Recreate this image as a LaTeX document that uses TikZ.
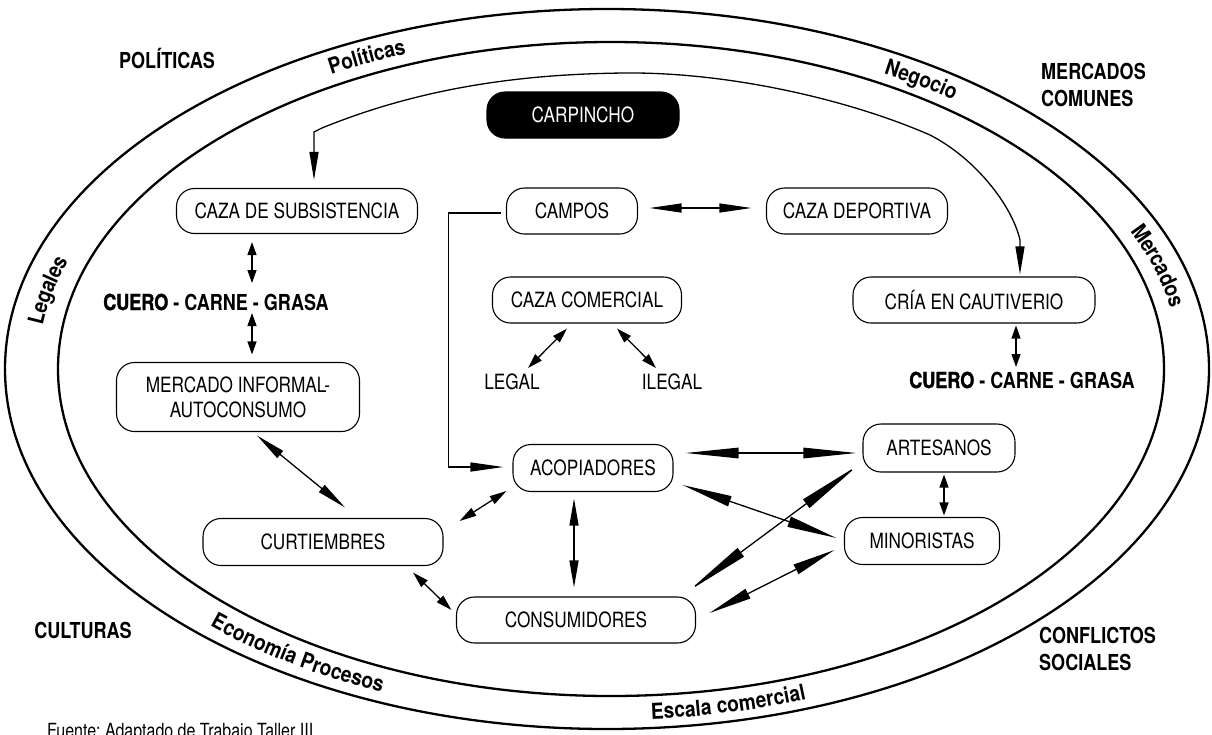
\documentclass[tikz,border=0pt]{standalone}
\usepackage{fontspec}
\setmainfont{TeX Gyre Heros}[FakeStretch=0.82]
\newfontfamily\bandfont{TeX Gyre Heros}[FakeStretch=0.87]
\newfontfamily\heavyfont{TeX Gyre Heros}[FakeStretch=0.82, FakeBold=1.5]
\usetikzlibrary{arrows.meta,calc,decorations.text}
\frenchspacing

\tikzset{
  box/.style={draw, line width=1.1pt, rounded corners=18pt, minimum height=46pt,
    inner sep=0pt, font=\fontsize{21}{25}\selectfont, align=center},
  lbl/.style={font=\fontsize{22}{27}\selectfont\bfseries, align=left, inner sep=0pt},
  plain/.style={font=\fontsize{21}{25}\selectfont, inner sep=0pt},
  arr/.style={line width=1.3pt, {Triangle[length=#1,width=9pt]}-{Triangle[length=#1,width=9pt]}},
  longarr/.style={line width=1.3pt, {Triangle[length=#1,width=10.5pt]}-{Triangle[length=#1,width=10.5pt]}},
  onearr/.style={line width=1.3pt, -{Triangle[length=#1,width=9pt]}},
  ring/.style={line width=2.3pt},
  band/.style={decorate, decoration={text along path, text align=center, raise=-7pt,
    text={|\bandfont\bfseries\fontsize{22}{26}\selectfont|#1}}},
}

\begin{document}
\begin{tikzpicture}[x=1pt,y=-1pt]
\useasboundingbox (0,0) rectangle (1212,734);

% the two rings
\draw[ring] (607,369) ellipse [x radius=602, y radius=360];
\draw[ring] (611,369) ellipse [x radius=553, y radius=327];

% words written inside the band between the rings
\path[band=Políticas] ($(609,369)+({578*cos(213)},{344*sin(213)})$)
  arc[start angle=213, end angle=273, x radius=578, y radius=344];
\path[band=Negocio] ($(609,369)+({578*cos(284)},{344*sin(284)})$)
  arc[start angle=284, end angle=324, x radius=578, y radius=344];
\path[band=Mercados] ($(609,369)+({578*cos(322)},{344*sin(322)})$)
  arc[start angle=322, end angle=366, x radius=578, y radius=344];
\path[band=Legales] ($(609,369)+({578*cos(170)},{344*sin(170)})$)
  arc[start angle=170, end angle=214, x radius=578, y radius=344];
\path[band=Economía Procesos] ($(609,369)+({578*cos(158)},{344*sin(158)})$)
  arc[start angle=158, end angle=94, x radius=578, y radius=344];
\path[band=Escala comercial] ($(609,369)+({578*cos(107)},{344*sin(107)})$)
  arc[start angle=107, end angle=47, x radius=578, y radius=344];

% outer labels
\node[lbl] (pol) at (167,58) {POLÍTICAS};
\node[lbl, anchor=west] (mer) at (1041,85) {MERCADOS\\COMUNES};
\node[lbl] (cul) at (83,630) {CULTURAS};
\node[lbl, anchor=west] (con) at (1039,649) {CONFLICTOS\\SOCIALES};
\node[plain, anchor=base west, font=\fontsize{19.5}{23}\selectfont] (src) at (47,737)
  {Fuente: Adaptado de Trabajo Taller III.};

% nodes
\node[box, fill=black, text=white, minimum width=192pt] (carp) at (583,115) {CARPINCHO};
\node[box, minimum width=241pt, minimum height=45pt] (caza) at (297,211) {CAZA DE SUBSISTENCIA};
\node[box, minimum width=131pt] (campos) at (572,211) {CAMPOS};
\node[box, minimum width=181pt] (deport) at (857,211) {CAZA DEPORTIVA};
\node[box, minimum width=189pt] (comer) at (587,300) {CAZA COMERCIAL};
\node[box, minimum width=242pt] (cria) at (974,300) {CRÍA EN CAUTIVERIO};
\node[plain] (legal) at (512,382) {LEGAL};
\node[plain] (ilegal) at (672,382) {ILEGAL};
\node[plain, font=\fontsize{22}{27}\selectfont] (cueroA) at (216,302)
  {{\heavyfont\bfseries CUERO}\bfseries\ - CARNE - GRASA};
\node[plain, font=\fontsize{22}{27}\selectfont] (cueroB) at (1022,380)
  {{\heavyfont\bfseries CUERO}\bfseries\ - CARNE - GRASA};
\node[box, minimum width=243pt, minimum height=69pt] (merc) at (238,397)
  {MERCADO INFORMAL-\\AUTOCONSUMO};
\node[box, minimum width=160pt, minimum height=47pt] (acop) at (593,468) {ACOPIADORES};
\node[box, minimum width=152pt, minimum height=48pt] (art) at (939,448) {ARTESANOS};
\node[box, minimum width=155pt, minimum height=47pt] (mino) at (922,541) {MINORISTAS};
\node[box, minimum width=240pt, minimum height=47pt] (curt) at (323,542) {CURTIEMBRES};
\node[box, minimum width=239pt] (cons) at (576,620) {CONSUMIDORES};

% connectors
\draw[arr=28pt] ($(caza.north)+(17,-8)$) -- (314,132) -- (322,128)
  .. controls (420,88) and (520,74) .. (625,73)
  .. controls (730,72) and (850,100) .. (930,135)
  .. controls (975,158) and (1012,205) .. (1020,240)
  -- ($(cria.north)+(46,-2)$);

\draw[arr=13pt] ($(caza.south)+(-45,8)$) -- ($(cueroA)+(36,-19)$);
\draw[arr=13pt] ($(cueroA)+(36,11)$) -- ($(merc.north)+(14,-7.5)$);
\draw[arr=30pt] ($(merc.south)+(19,3.5)$) -- ($(curt.north)+(22,-10.5)$);
\draw[arr=16pt] ($(curt.south)+(90,6.5)$) -- ($(cons.west)+(-4.5,-10)$);
\draw[arr=17pt] ($(acop.west)+(-6,23)$) -- ($(curt.east)+(16,-21)$);
\draw[arr=27pt] ($(acop.south)+(-19,6.5)$) -- ($(cons.north)+(-2,-9)$);
\draw[longarr=53pt] ($(acop.east)+(12,-15)$) -- ($(art.west)+(-6,5)$);
\draw[longarr=50pt] ($(acop.east)+(9,17)$) -- ($(mino.west)+(-7.5,-3)$);
\draw[longarr=65pt] ($(cons.east)+(-7.5,-29)$) -- ($(art.west)+(-4,17)$);
\draw[longarr=43pt] ($(cons.east)+(13.5,-7)$) -- ($(mino.west)+(-9.5,9)$);
\draw[arr=13pt] ($(art.south)+(5,2)$) -- ($(mino.north)+(22,-1.5)$);
\draw[arr=13pt] ($(cria.south)+(42,2)$) -- ($(cueroB)+(-6,-13)$);
\draw[arr=15pt] ($(comer.south)+(-20,5)$) -- ($(legal)+(16,-14)$);
\draw[arr=15pt] ($(comer.south)+(30,5)$) -- ($(ilegal)+(-16,-14)$);
\draw[arr=32pt] ($(campos.east)+(11.5,-3)$) -- ($(deport.west)+(-14.5,-3)$);
\draw[onearr=33pt] ($(campos.west)+(-4.5,2)$) -- ++(-53,0) |- ($(acop.west)+(-9,-1)$);
\end{tikzpicture}
\end{document}
